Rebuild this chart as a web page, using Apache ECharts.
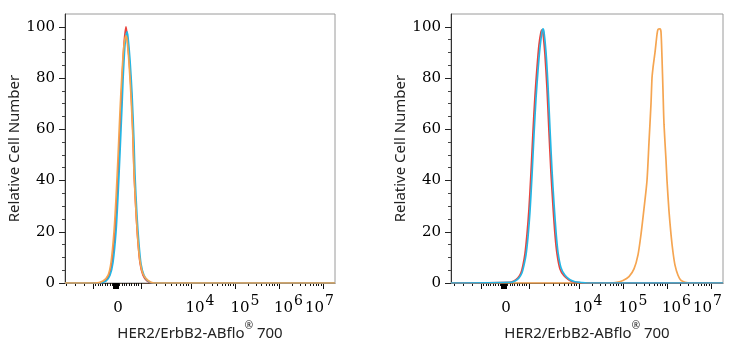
<!DOCTYPE html>
<html>
<head>
<meta charset="utf-8">
<script src="https://cdn.jsdelivr.net/npm/echarts@6/dist/echarts.min.js"></script>
<style>
    html, body { margin: 0; padding: 0; background: #fff; }
    #chart { width: 738px; height: 350px; }
</style>
</head>
<body>
<div id="chart"></div>
<script>
// histogram curves, x = position on the biexponential display scale (0 = zero intensity)
const leftRed = [[-52,0],[-20,0],[-12,0.8],[-8,3],[-5,8],[-2,20],[0,34],[2,50],[4,68],[5,78],[7,93],[9,100],[10,97],[12,88],[14,76],[16,58],[17,44],[19,28],[21,16],[23,8],[26,3],[30,0.8],[35,0],[218,0]];
const leftBlue = [[-52,0],[-19,0],[-11,0.8],[-7,3],[-4,8],[-1,20],[1,34],[3,51],[5,69],[6,79],[8,93],[10,98],[11,96],[13,87],[15,74],[17,55],[18,42],[20,26],[22,15],[24,7.5],[27,3],[31,0.8],[36,0],[218,0]];
const leftOrange = [[-52,0],[-22,0],[-14,0.8],[-9,3],[-6,8],[-3,20],[-1,33],[1,49],[3,67],[5,82],[7,93],[9,96.5],[10,95],[12,86],[14,73],[16,56],[17,43],[19,28],[21,16],[23,8.5],[26,3.5],[31,1],[37,0],[218,0]];

const rightRed = [[-54,0],[5,0.3],[9,0.8],[13,2],[16,4],[18,7],[20,11.5],[22,19],[24,29],[26,43],[28,59],[30,73],[32,84],[34,93],[36,98],[37,98.8],[38,97.5],[40,89],[42,76],[44,59],[46,43],[48,30],[50,19],[52,11.5],[55,5.5],[59,2.8],[64,1.2],[69,0.4],[75,0.1],[80,0],[218,0]];
const rightBlue = [[-54,0],[6,0.3],[10,0.8],[14,2],[17,4],[19,7],[21,11],[23,18],[25,28],[27,42],[29,58],[31,72],[33,83],[35,92],[37,98],[38,99.2],[39,98],[41,90],[43,77],[45,60],[47,44],[49,31],[51,20],[53,12],[56,6],[60,3],[65,1.3],[70,0.5],[76,0.2],[82,0],[218,0]];
const rightOrange = [[-54,0],[105,0],[112,0.3],[118,1],[124,2.5],[129,5.5],[133,11],[136,19],[139,29],[142,40],[144,55],[146,70],[147,80],[148,84],[150,90],[152,97],[153,99],[155,99.2],[156,98],[157,88],[158,75],[159,62],[161,48],[162,40],[164,28],[166,19],[168,12],[170,7],[173,3],[176,1],[180,0.3],[186,0],[218,0]];

// axis ticks
const yMajor = [0, 20, 40, 60, 80, 100];
const yMinor = [5, 10, 15, 25, 30, 35, 45, 50, 55, 65, 70, 75, 85, 90, 95];
const xMajorValues = [-1e3, 1e3, 1e4, 1e5, 1e6, 1e7];
const xLabelValues = [0, 1e4, 1e5, 1e6, 1e7];
const xLabelExp = [null, 4, 5, 6, 7];

const colors = { red: '#e8433d', blue: '#25b6e4', orange: '#f5a551' };

// biexponential-like display transform (fluorescence -> axis units)
function disp(v) {
    let a = Math.abs(v);
    if (a <= 1e3) return 24 * v / 1e3;
    if (v < 0) return -(24 + 9 * (a - 1e3) / 1e3);
    if (a <= 1e4) return 24 + 50 * Math.log10(a / 1e3);
    return 74 + 44 * Math.log10(a / 1e4);
}

let minorVals = [];
for (let k = 1; k <= 9; k++) { minorVals.push(k * 100); minorVals.push(-k * 100); }
for (let k = 2; k <= 4; k++) minorVals.push(-k * 1e3);
[1e3, 1e4, 1e5, 1e6].forEach(function (dec) {
    for (let k = 2; k <= 9; k++) minorVals.push(k * dec);
});
const xMinorPos = minorVals.map(disp);
const xMajorPos = xMajorValues.map(disp);

// label placement: "10^n" starts a little left of its tick, the last one is pulled inside
const labelShift = [1, 9, 10, 9.5, -3.5];
const labelPos = xLabelValues.map(function (v, i) { return disp(v) + labelShift[i]; });
const labelText = {};
labelPos.forEach(function (p, i) {
    labelText[p.toFixed(2)] = xLabelExp[i] === null ? '{b|0}' : '{b|10}{s|' + xLabelExp[i] + '}';
});

const serif = 'DejaVu Serif';
const sans = 'Noto Sans';

function makeGrid(left, width) {
    return { left: left, top: 14, width: width, height: 269, show: true, borderColor: '#9a9a9a', borderWidth: 1, backgroundColor: '#fff' };
}

function xAxes(gridIndex, min) {
    return [
        {
            type: 'value', gridIndex: gridIndex, position: 'bottom', min: min, max: 218,
            axisLine: { show: true, onZero: false, lineStyle: { color: '#5a4a3a', width: 1 } },
            axisTick: { show: true, customValues: xMajorPos, length: 6, lineStyle: { color: '#111' } },
            axisLabel: {
                show: true, customValues: labelPos, margin: 11,
                formatter: function (val) { return labelText[val.toFixed(2)] || ''; },
                rich: {
                    b: { fontFamily: serif, fontSize: 15, color: '#000', lineHeight: 22, verticalAlign: 'bottom' },
                    s: { fontFamily: serif, fontSize: 14, color: '#000', lineHeight: 14, verticalAlign: 'top', padding: [0, 0, 0, 1] }
                }
            },
            splitLine: { show: false },
            name: '{t|HER2/ErbB2-ABflo}{r|®}{t| 700}', nameLocation: 'middle', nameGap: 37,
            nameTextStyle: {
                rich: {
                    t: { fontFamily: sans, fontSize: 15, color: '#222', lineHeight: 20, verticalAlign: 'bottom' },
                    r: { fontFamily: sans, fontSize: 10, color: '#222', lineHeight: 17, verticalAlign: 'top' }
                }
            }
        },
        {
            type: 'value', gridIndex: gridIndex, position: 'bottom', min: min, max: 218,
            axisLine: { show: false, onZero: false },
            axisTick: { show: true, customValues: xMinorPos, length: 3, lineStyle: { color: '#111' } },
            axisLabel: { show: false },
            splitLine: { show: false }
        },
        {
            type: 'value', gridIndex: gridIndex, position: 'bottom', min: min, max: 218,
            axisLine: { show: false, onZero: false },
            axisTick: { show: true, customValues: [-1.5], length: 6, lineStyle: { color: '#000', width: 6 } },
            axisLabel: { show: false },
            splitLine: { show: false }
        }
    ];
}

function yAxes(gridIndex) {
    return [
        {
            type: 'value', gridIndex: gridIndex, position: 'left', min: 0, max: 105,
            axisLine: { show: true, onZero: false, lineStyle: { color: '#333', width: 1 } },
            axisTick: { show: true, customValues: yMajor, length: 6, lineStyle: { color: '#222' } },
            axisLabel: { show: true, customValues: yMajor, margin: 10, fontFamily: serif, fontSize: 15, color: '#000' },
            splitLine: { show: false },
            name: 'Relative Cell Number', nameLocation: 'middle', nameGap: 35,
            nameTextStyle: { fontFamily: sans, fontSize: 15, color: '#222' }
        },
        {
            type: 'value', gridIndex: gridIndex, position: 'left', min: 0, max: 105,
            axisLine: { show: false, onZero: false },
            axisTick: { show: true, customValues: yMinor, length: 3, lineStyle: { color: '#444' } },
            axisLabel: { show: false },
            splitLine: { show: false }
        }
    ];
}

function curve(data, color, xIdx, yIdx) {
    return {
        type: 'line', data: data, xAxisIndex: xIdx, yAxisIndex: yIdx,
        symbol: 'none', smooth: 0.25, animation: false,
        lineStyle: { color: color, width: 1.7 }
    };
}

let chart = echarts.init(document.getElementById('chart'), null, { renderer: 'canvas' });
let option = {
    animation: false,
    grid: [makeGrid(65, 270), makeGrid(451, 272)],
    xAxis: xAxes(0, -52).concat(xAxes(1, -54)),
    yAxis: yAxes(0).concat(yAxes(1)),
    series: [
        curve(leftRed, colors.red, 0, 0),
        curve(leftBlue, colors.blue, 0, 0),
        curve(leftOrange, colors.orange, 0, 0),
        curve(rightOrange, colors.orange, 3, 2),
        curve(rightRed, colors.red, 3, 2),
        curve(rightBlue, colors.blue, 3, 2)
    ]
};
chart.setOption(option);
</script>
</body>
</html>
